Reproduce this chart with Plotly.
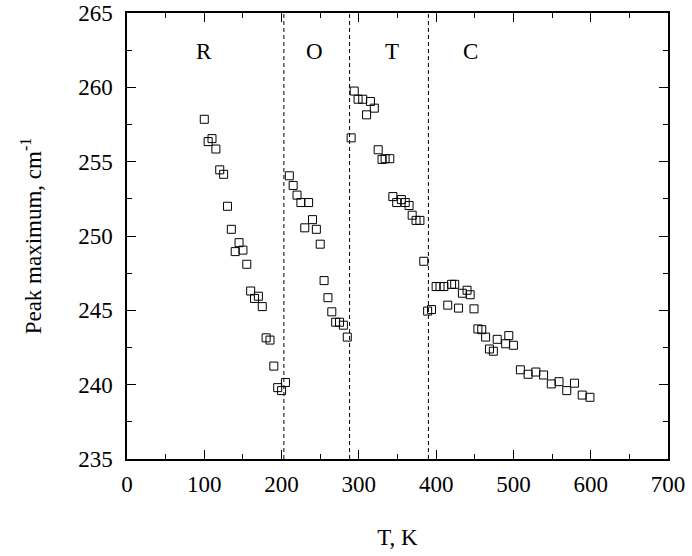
import plotly.graph_objects as go

# Temperature (K) and peak maximum (cm^-1)
T_R = [100, 105, 110, 115, 120, 125, 130, 135, 140, 145, 150, 155, 160, 165, 170,
       175, 180, 185, 190, 195, 200, 205]
P_R = [257.85, 256.35, 256.55, 255.85, 254.45, 254.15, 252.0, 250.45, 248.95, 249.55,
       249.05, 248.1, 246.3, 245.8, 245.95, 245.25, 243.15, 243.0, 241.25, 239.8, 239.6, 240.15]

T_O = [210, 215, 220, 225, 230, 235, 240, 245, 250, 255, 260, 265, 270, 275, 280, 285]
P_O = [254.05, 253.4, 252.75, 252.25, 250.55, 252.25, 251.1, 250.45, 249.45, 247.0,
       245.85, 244.9, 244.2, 244.2, 244.0, 243.2]

T_T = [290, 294, 299, 305, 310, 315, 320, 325, 330, 334, 340, 344, 349, 355, 360,
       365, 369, 374, 379, 384]
P_T = [256.6, 259.75, 259.2, 259.2, 258.15, 259.05, 258.6, 255.8, 255.15, 255.2,
       255.2, 252.65, 252.25, 252.45, 252.25, 252.05, 251.4, 251.05, 251.05, 248.3]

T_C = [389, 394, 400, 405, 410, 415, 420, 424, 429, 434, 440, 444, 449, 454, 459,
       464, 469, 474, 479, 490, 494, 500, 509, 519, 529, 539, 549, 559, 569, 579,
       589, 599]
P_C = [244.95, 245.05, 246.6, 246.6, 246.6, 245.35, 246.75, 246.75, 245.15, 246.15,
       246.35, 246.05, 245.1, 243.75, 243.7, 243.2, 242.4, 242.25, 243.05, 242.75,
       243.3, 242.65, 241.0, 240.7, 240.85, 240.65, 240.05, 240.2, 239.6, 240.1,
       239.3, 239.15]

phase_bounds = [203, 288, 390]
phase_labels = ["R", "O", "T", "C"]
phase_label_x = [99, 243, 343, 444]
phase_label_y = 262.4

T_all = T_R + T_O + T_T + T_C
P_all = P_R + P_O + P_T + P_C

FONT = "Liberation Serif"
FS = 23

fig = go.Figure()
fig.add_trace(go.Scatter(
    x=T_all, y=P_all, mode="markers",
    marker=dict(symbol="square-open", size=8, color="black", line=dict(width=1, color="black")),
    showlegend=False,
))

for xb in phase_bounds:
    fig.add_shape(type="line", xref="x", yref="paper", x0=xb, x1=xb, y0=0, y1=1,
                  line=dict(color="black", width=1, dash="4px,3px"))

for lab, lx in zip(phase_labels, phase_label_x):
    fig.add_annotation(x=lx, y=phase_label_y, text=lab, showarrow=False,
                       font=dict(family=FONT, size=FS, color="black"))

axis_common = dict(
    showline=True, linecolor="black", linewidth=1.5, mirror="ticks",
    ticks="inside", ticklen=9, tickwidth=1, tickcolor="black",
    showgrid=False, zeroline=False, automargin=False,
    tickfont=dict(family=FONT, size=FS, color="black"),
)

fig.update_xaxes(
    range=[0, 700], dtick=100, tick0=0,
    minor=dict(dtick=50, ticks="inside", ticklen=5, tickcolor="black", tickwidth=1, showgrid=False),
    title=dict(text="T, K", font=dict(family=FONT, size=FS, color="black"), standoff=33),
    ticklabelstandoff=4,
    **axis_common,
)
fig.update_yaxes(
    range=[235, 265], dtick=5, tick0=235,
    minor=dict(dtick=2.5, ticks="inside", ticklen=5, tickcolor="black", tickwidth=1, showgrid=False),
    title=dict(text="Peak maximum, cm<sup>-1</sup>", font=dict(family=FONT, size=FS, color="black"), standoff=30),
    ticklabelstandoff=8,
    **axis_common,
)

fig.update_layout(
    width=692, height=556,
    margin=dict(l=127, r=24, t=13, b=97),
    plot_bgcolor="white", paper_bgcolor="white",
    font=dict(family=FONT, color="black", size=FS),
)

fig.write_html("out.html", config={"displayModeBar": False},
               post_script="document.body.style.margin='0';")
